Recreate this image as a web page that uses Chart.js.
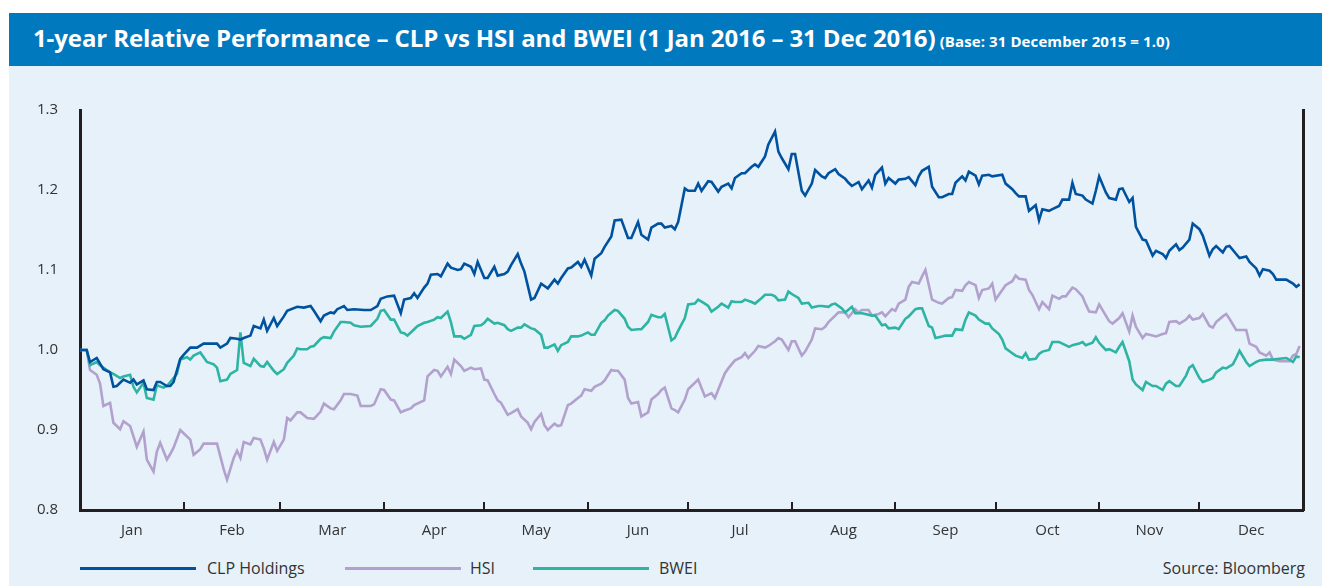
<!DOCTYPE html>
<html>
<head>
<meta charset="utf-8">
<script src="https://cdn.jsdelivr.net/npm/chart.js@4.4.0/dist/chart.umd.min.js"></script>
<style>
  html, body { margin: 0; padding: 0; background: #fff; }
  body { width: 1322px; height: 588px; position: relative; overflow: hidden; font-family: "Open Sans", sans-serif; }
  .titlebar { position: absolute; left: 9px; top: 13px; width: 1313px; height: 53px; background: #0079bf; color: #fff; }
  .titlebar .title { position: absolute; left: 24px; top: 8px; white-space: nowrap; font-weight: 700; }
  .titlebar .big { font-size: 24px; letter-spacing: -0.1px; }
  .titlebar .small { font-size: 15px; letter-spacing: 0.1px; }
  .panel { position: absolute; left: 9px; top: 66px; width: 1313px; height: 520px; background: #e6f1fa; }
  #chart { position: absolute; left: 0; top: 66px; }
  .leg-line { position: absolute; top: 567px; width: 116px; height: 3px; }
  .leg-text { position: absolute; top: 557px; font-size: 16px; color: #333; white-space: nowrap; }
</style>
</head>
<body>
<div class="titlebar">
  <div class="title"><span class="big">1-year Relative Performance – CLP vs HSI and BWEI (1 Jan 2016 – 31 Dec 2016)</span> <span class="small">(Base: 31 December 2015 = 1.0)</span></div>
</div>
<div class="panel"></div>
<canvas id="chart" width="1322" height="486"></canvas>

<div class="leg-line" style="left:80px;background:#00529f"></div>
<div class="leg-text" style="left:207px">CLP Holdings</div>
<div class="leg-line" style="left:345px;background:#b2a1cd"></div>
<div class="leg-text" style="left:470px">HSI</div>
<div class="leg-line" style="left:533px;background:#2db4a2"></div>
<div class="leg-text" style="left:659px">BWEI</div>
<div class="leg-text" style="right:17px">Source: Bloomberg</div>

<script>
// days counted from 31 Dec 2015 (base = 1.0)
const monthLabels = ['Jan','Feb','Mar','Apr','May','Jun','Jul','Aug','Sep','Oct','Nov','Dec'];
const monthEdges = [0,31,60,91,121,152,182,213,244,274,305,335,366];
const yTicks = [0.8, 0.9, 1.0, 1.1, 1.2, 1.3];

const clpDays = [0,2,3,5,6,7,9,10,11,13,15,16,17,19,20,22,23,24,26,27,28,30,31,33,35,37,39,41,42,44,45,47,48,49,51,52,54,55,56,58,59,61,62,65,67,69,70,72,73,75,76,77,79,80,82,85,87,89,90,92,94,96,97,99,100,101,103,104,105,107,108,110,111,113,114,115,117,118,119,121,122,124,125,127,128,129,131,132,133,135,136,138,139,140,142,143,144,146,147,149,150,151,153,154,156,157,159,160,162,164,165,167,168,170,171,173,174,175,177,178,179,181,182,184,185,186,188,189,191,192,194,195,196,198,199,201,202,203,205,206,208,209,210,212,213,214,216,217,219,220,222,223,224,226,227,229,230,231,233,234,236,237,238,240,241,242,244,245,247,248,250,251,252,254,255,257,258,260,261,262,264,265,266,268,269,270,272,273,276,277,279,280,281,283,284,286,287,288,290,291,293,294,296,297,298,300,301,303,304,305,307,308,310,311,312,314,315,316,318,319,321,322,324,325,326,328,329,330,332,333,335,336,338,339,340,342,343,344,346,347,349,350,352,353,354,356,357,358,360,361,363,364,365];
const clpValues = [1.000,1.000,0.985,0.990,0.983,0.976,0.972,0.954,0.955,0.963,0.959,0.963,0.957,0.962,0.951,0.950,0.960,0.960,0.955,0.955,0.960,0.989,0.994,1.003,1.003,1.008,1.008,1.008,1.003,1.008,1.015,1.014,1.013,1.015,1.018,1.030,1.027,1.038,1.024,1.040,1.030,1.042,1.049,1.054,1.053,1.055,1.049,1.036,1.043,1.047,1.046,1.051,1.055,1.050,1.051,1.050,1.050,1.055,1.064,1.067,1.068,1.046,1.063,1.065,1.071,1.065,1.078,1.083,1.094,1.095,1.092,1.108,1.103,1.100,1.101,1.108,1.104,1.095,1.110,1.090,1.090,1.104,1.093,1.095,1.098,1.106,1.120,1.108,1.098,1.063,1.065,1.083,1.080,1.077,1.088,1.083,1.090,1.102,1.103,1.110,1.104,1.113,1.093,1.114,1.121,1.129,1.142,1.162,1.163,1.140,1.140,1.160,1.144,1.138,1.153,1.158,1.158,1.153,1.155,1.151,1.160,1.202,1.199,1.199,1.208,1.199,1.211,1.210,1.198,1.204,1.208,1.202,1.215,1.221,1.221,1.229,1.232,1.229,1.242,1.257,1.273,1.248,1.240,1.226,1.245,1.245,1.199,1.193,1.208,1.225,1.217,1.215,1.221,1.226,1.220,1.214,1.209,1.205,1.210,1.201,1.212,1.203,1.219,1.228,1.208,1.215,1.208,1.213,1.214,1.216,1.206,1.217,1.224,1.229,1.204,1.191,1.191,1.195,1.195,1.209,1.217,1.212,1.223,1.218,1.207,1.218,1.219,1.217,1.219,1.208,1.201,1.196,1.192,1.192,1.174,1.181,1.162,1.176,1.174,1.176,1.180,1.188,1.188,1.209,1.195,1.193,1.188,1.183,1.199,1.217,1.197,1.190,1.188,1.201,1.202,1.185,1.190,1.154,1.138,1.137,1.118,1.124,1.120,1.115,1.124,1.132,1.125,1.128,1.138,1.158,1.151,1.143,1.118,1.126,1.130,1.122,1.129,1.130,1.120,1.115,1.117,1.110,1.102,1.093,1.101,1.099,1.095,1.088,1.088,1.088,1.083,1.079,1.082];

const hsiDays = [0,2,3,5,6,7,9,10,12,13,15,16,17,19,20,22,23,24,26,27,28,30,31,33,34,36,37,39,41,43,44,46,47,48,49,51,52,54,55,56,58,59,61,62,63,65,66,68,70,72,73,75,76,78,79,81,83,84,87,88,90,91,93,94,96,97,99,100,103,104,106,107,108,110,111,112,114,115,117,118,120,121,122,124,125,126,128,129,131,132,134,135,136,138,139,140,142,143,144,146,147,149,150,151,153,154,156,157,159,160,161,163,164,165,167,168,170,171,173,174,175,177,178,179,181,182,185,187,189,190,193,194,196,198,199,200,202,203,205,206,208,209,210,212,213,214,216,217,219,220,222,223,224,226,227,229,230,232,233,234,236,237,239,240,241,243,244,245,247,248,249,251,252,253,255,257,258,260,261,262,264,265,266,268,269,270,272,273,274,276,277,279,280,281,283,284,285,287,288,290,291,293,294,295,297,298,300,301,302,304,305,307,308,309,311,312,314,315,316,318,319,321,322,324,325,326,328,329,331,332,333,335,336,338,339,340,342,343,344,346,347,349,350,352,353,355,356,357,359,360,362,363,364,365];
const hsiValues = [1.000,1.000,0.975,0.969,0.958,0.930,0.934,0.909,0.901,0.911,0.905,0.892,0.879,0.898,0.863,0.848,0.873,0.884,0.863,0.870,0.878,0.900,0.896,0.888,0.869,0.876,0.883,0.883,0.883,0.851,0.838,0.865,0.874,0.865,0.885,0.882,0.890,0.888,0.877,0.863,0.885,0.874,0.888,0.915,0.912,0.922,0.922,0.915,0.914,0.923,0.933,0.927,0.926,0.937,0.945,0.945,0.943,0.930,0.930,0.932,0.951,0.950,0.938,0.937,0.922,0.924,0.927,0.931,0.937,0.967,0.975,0.974,0.967,0.979,0.970,0.988,0.980,0.974,0.978,0.976,0.977,0.963,0.962,0.945,0.937,0.934,0.919,0.921,0.926,0.917,0.909,0.901,0.910,0.920,0.906,0.900,0.908,0.905,0.906,0.931,0.933,0.940,0.943,0.951,0.949,0.954,0.958,0.962,0.975,0.974,0.974,0.963,0.940,0.933,0.935,0.917,0.922,0.938,0.945,0.950,0.953,0.927,0.925,0.922,0.938,0.951,0.963,0.942,0.946,0.940,0.971,0.977,0.987,0.991,0.996,0.990,0.999,1.005,1.003,1.005,1.011,1.015,1.013,1.000,1.011,1.011,0.993,0.998,1.013,1.027,1.026,1.029,1.035,1.043,1.047,1.047,1.041,1.051,1.047,1.050,1.050,1.043,1.045,1.047,1.042,1.051,1.049,1.058,1.063,1.079,1.085,1.083,1.092,1.100,1.063,1.059,1.058,1.065,1.066,1.075,1.074,1.081,1.085,1.081,1.065,1.075,1.077,1.083,1.063,1.075,1.081,1.086,1.093,1.089,1.088,1.075,1.069,1.051,1.060,1.051,1.068,1.064,1.067,1.067,1.078,1.076,1.067,1.057,1.048,1.047,1.057,1.043,1.036,1.033,1.040,1.046,1.023,1.043,1.029,1.015,1.020,1.018,1.017,1.020,1.021,1.035,1.036,1.033,1.038,1.043,1.038,1.040,1.045,1.030,1.028,1.035,1.042,1.045,1.039,1.025,1.025,1.025,1.008,1.004,0.997,0.993,0.997,0.988,0.986,0.986,0.986,0.993,0.995,1.005];

const bweiDays = [0,2,3,5,6,8,9,10,12,13,15,16,17,19,20,22,23,25,26,27,29,30,32,33,34,36,37,38,40,41,42,44,45,47,48,49,51,52,54,55,56,58,59,61,62,64,65,66,68,69,70,72,73,75,76,78,79,81,82,84,87,89,90,91,93,94,96,97,98,100,101,103,104,106,107,108,110,111,112,114,115,117,118,120,121,122,124,125,127,128,129,131,132,133,135,136,138,139,140,142,143,144,146,147,149,150,152,153,154,156,157,158,160,161,163,164,165,167,168,170,171,173,174,175,177,178,179,181,182,184,185,187,188,189,191,192,194,195,196,198,199,201,202,204,205,207,208,209,211,212,213,215,216,218,219,221,222,224,225,226,228,229,231,232,234,235,237,238,240,241,242,244,245,247,248,250,251,252,254,255,256,258,259,261,262,264,265,266,268,269,271,272,273,275,276,277,279,280,282,283,284,286,287,288,290,291,293,294,296,297,299,300,301,303,304,305,307,308,310,311,312,314,315,316,318,319,321,322,324,325,326,328,329,331,332,333,335,336,338,339,340,342,343,345,346,347,349,350,352,353,355,357,359,361,363,364,365];
const bweiValues = [1.000,1.000,0.981,0.985,0.981,0.975,0.972,0.970,0.965,0.967,0.969,0.954,0.947,0.959,0.940,0.938,0.956,0.953,0.955,0.960,0.970,0.988,0.991,0.988,0.993,0.997,0.991,0.985,0.982,0.978,0.961,0.963,0.970,0.975,1.022,0.984,0.980,0.989,0.980,0.979,0.985,0.974,0.970,0.976,0.984,0.993,1.002,1.001,1.001,1.004,1.005,1.014,1.016,1.015,1.023,1.035,1.035,1.034,1.031,1.029,1.030,1.039,1.049,1.050,1.038,1.038,1.022,1.021,1.018,1.026,1.030,1.034,1.035,1.038,1.041,1.040,1.048,1.035,1.017,1.017,1.014,1.019,1.030,1.031,1.034,1.039,1.033,1.034,1.031,1.026,1.024,1.028,1.028,1.032,1.027,1.026,1.019,1.003,1.003,1.007,0.999,1.006,1.010,1.017,1.017,1.018,1.022,1.019,1.019,1.034,1.037,1.043,1.050,1.049,1.039,1.029,1.025,1.026,1.026,1.035,1.044,1.041,1.041,1.045,1.012,1.015,1.024,1.040,1.057,1.058,1.063,1.058,1.055,1.048,1.054,1.058,1.053,1.061,1.060,1.060,1.063,1.060,1.058,1.065,1.069,1.069,1.067,1.062,1.063,1.073,1.070,1.065,1.058,1.059,1.053,1.055,1.055,1.054,1.057,1.058,1.052,1.047,1.054,1.046,1.046,1.045,1.043,1.043,1.031,1.032,1.027,1.028,1.026,1.039,1.042,1.051,1.052,1.052,1.030,1.028,1.015,1.017,1.018,1.018,1.026,1.025,1.038,1.047,1.043,1.038,1.033,1.033,1.027,1.020,1.013,1.002,0.996,0.993,0.990,0.996,0.988,0.989,0.995,0.998,1.000,1.010,1.010,1.008,1.004,1.006,1.008,1.010,1.006,1.009,1.016,1.009,1.000,1.001,0.997,1.004,1.010,0.986,0.963,0.957,0.950,0.960,0.955,0.955,0.950,0.958,0.961,0.955,0.955,0.968,0.978,0.981,0.965,0.960,0.963,0.965,0.972,0.978,0.977,0.982,0.990,0.999,0.985,0.980,0.985,0.987,0.988,0.988,0.989,0.990,0.985,0.992,0.991];

const monthMids = monthLabels.map((m, i) => (monthEdges[i] + monthEdges[i + 1]) / 2);
const toPoints = (days, vals) => days.map((d, i) => ({ x: d, y: vals[i] }));

// small upward tick marks on the x axis at month boundaries
const monthTicks = {
  id: 'monthTicks',
  afterDatasetsDraw(chart) {
    const { ctx, scales: { x }, chartArea } = chart;
    ctx.save();
    ctx.strokeStyle = '#231f20';
    ctx.lineWidth = 2;
    monthEdges.slice(1, -1).forEach(d => {
      const px = Math.round(x.getPixelForValue(d));
      ctx.beginPath();
      ctx.moveTo(px, chartArea.bottom);
      ctx.lineTo(px, chartArea.bottom - 8);
      ctx.stroke();
    });
    ctx.restore();
  }
};

const axisColor = '#231f20';

new Chart(document.getElementById('chart'), {
  type: 'line',
  data: {
    datasets: [
      { label: 'CLP Holdings', data: toPoints(clpDays, clpValues), borderColor: '#00529f', borderWidth: 2.6, order: 1 },
      { label: 'BWEI', data: toPoints(bweiDays, bweiValues), borderColor: '#2db4a2', borderWidth: 2.6, order: 2 },
      { label: 'HSI', data: toPoints(hsiDays, hsiValues), borderColor: '#b2a1cd', borderWidth: 2.6, order: 3 }
    ]
  },
  options: {
    responsive: false,
    animation: false,
    events: [],
    elements: { point: { radius: 0 }, line: { tension: 0, fill: false } },
    layout: { padding: { top: 44, right: 19, left: 0, bottom: 0 } },
    plugins: { legend: { display: false }, tooltip: { enabled: false } },
    scales: {
      x: {
        type: 'linear',
        min: 0,
        max: 366,
        afterBuildTicks: s => { s.ticks = monthMids.map(v => ({ value: v })); },
        afterFit: s => { s.height = 42; },
        ticks: {
          autoSkip: false,
          maxRotation: 0,
          padding: 12,
          color: '#333',
          font: { family: 'Open Sans', size: 15 },
          callback: (v, i) => monthLabels[i]
        },
        grid: { display: true, drawOnChartArea: false, drawTicks: false },
        border: { display: true, color: axisColor, width: 3 }
      },
      y: {
        min: 0.8,
        max: 1.3,
        afterBuildTicks: s => { s.ticks = yTicks.map(v => ({ value: v })); },
        afterFit: s => { s.width = 80; },
        ticks: {
          padding: 22,
          color: '#333',
          font: { family: 'Open Sans', size: 15 },
          callback: v => v.toFixed(1)
        },
        grid: { display: true, drawOnChartArea: false, drawTicks: false },
        border: { display: true, color: axisColor, width: 3 }
      },
      y2: {
        position: 'right',
        min: 0.8,
        max: 1.3,
        afterFit: s => { s.width = 0; },
        ticks: { display: false },
        grid: { display: true, drawOnChartArea: false, drawTicks: false },
        border: { display: true, color: axisColor, width: 3 }
      }
    }
  },
  plugins: [monthTicks]
});
</script>
</body>
</html>
